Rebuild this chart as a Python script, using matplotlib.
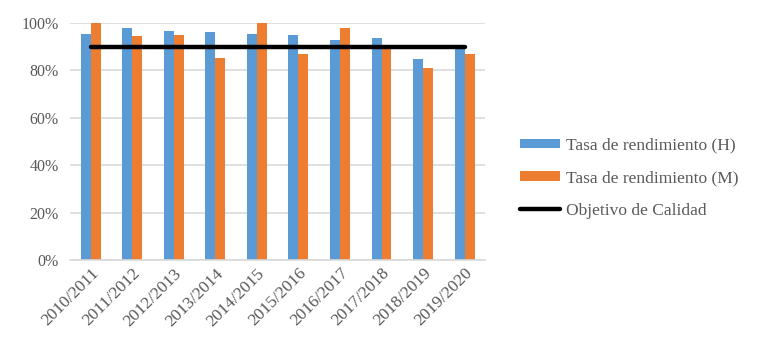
import numpy as np
import matplotlib
matplotlib.use("Agg")
import matplotlib.pyplot as plt
from matplotlib.ticker import PercentFormatter

cursos = ["2010/2011", "2011/2012", "2012/2013", "2013/2014", "2014/2015",
          "2015/2016", "2016/2017", "2017/2018", "2018/2019", "2019/2020"]
tasa_h = [95.4, 97.9, 96.6, 96.2, 95.4, 94.9, 92.8, 93.7, 84.8, 90.0]
tasa_m = [100.0, 94.5, 94.9, 85.2, 100.0, 86.9, 97.9, 89.5, 81.0, 86.9]
objetivo = [90] * len(cursos)

AZUL = "#5b9bd5"
NARANJA = "#ed7d31"
GRIS = "#595959"

plt.rcParams["font.family"] = ["Liberation Serif", "DejaVu Serif"]

fig = plt.figure(figsize=(7.68, 3.55), dpi=100)
ax = fig.add_axes([0.091, 0.268, 0.541, 0.667])

x = np.arange(len(cursos))
w = 0.24
b1 = ax.bar(x - w/2, tasa_h, w, color=AZUL, label="Tasa de rendimiento (H)", zorder=2)
b2 = ax.bar(x + w/2, tasa_m, w, color=NARANJA, label="Tasa de rendimiento (M)", zorder=2)
ln, = ax.plot(x, objetivo, color="black", lw=3.2, solid_capstyle="round",
              label="Objetivo de Calidad", zorder=3)

ax.set_xlim(-0.5, len(cursos) - 0.5)
ax.set_ylim(0, 100)
ax.set_yticks(range(0, 101, 20))
ax.yaxis.set_major_formatter(PercentFormatter(decimals=0))
ax.grid(axis="y", color="#d9d9d9", lw=1.2, zorder=0)
for s in ["top", "right", "left"]:
    ax.spines[s].set_visible(False)
ax.spines["bottom"].set_color("#d9d9d9")
ax.spines["bottom"].set_linewidth(1.2)
ax.tick_params(axis="both", length=0, colors=GRIS)
ax.tick_params(axis="y", pad=8, labelsize=11.5)
ax.tick_params(axis="x", pad=4, labelsize=12.5)
ax.set_xticks(x)
ax.set_xticklabels(cursos, rotation=45, ha="right", rotation_mode="anchor")

leg = ax.legend(handles=[b1, b2, ln], loc="center left",
                bbox_to_anchor=(1.045, 0.345), frameon=False,
                fontsize=12.5, handlelength=2.3, handleheight=0.5,
                handletextpad=0.35, labelspacing=0.95)
for t in leg.get_texts():
    t.set_color(GRIS)

fig.savefig("out.png", dpi=100)
